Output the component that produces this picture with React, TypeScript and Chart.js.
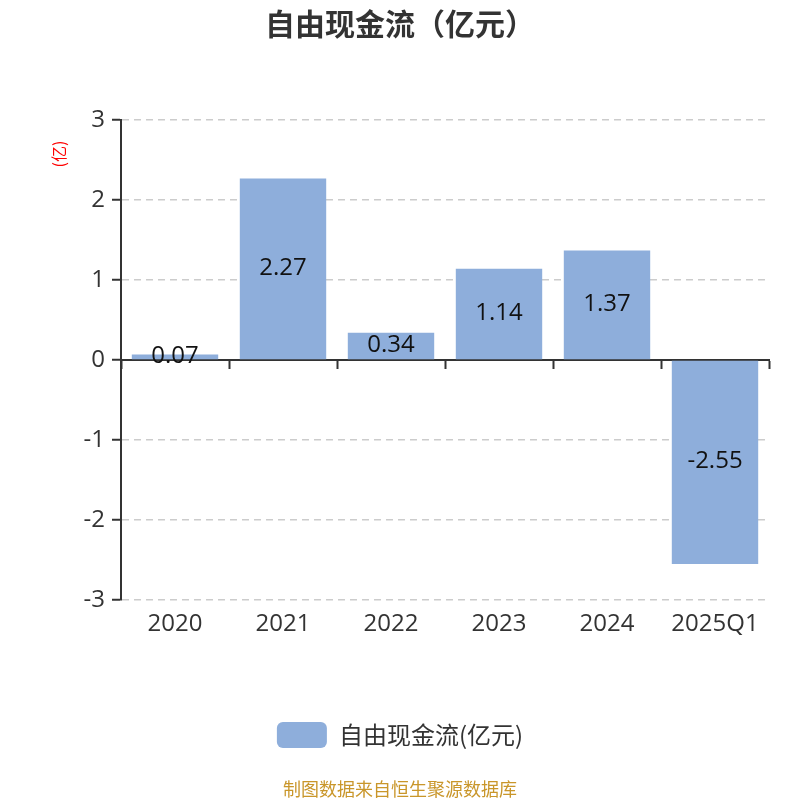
import React, { useEffect, useRef } from "react";
import { Chart, registerables } from "chart.js";

Chart.register(...registerables);

const categories = ["2020", "2021", "2022", "2023", "2024", "2025Q1"];
const freeCashFlow = [0.07, 2.27, 0.34, 1.14, 1.37, -2.55];
const seriesName = "自由现金流(亿元)";
const chartTitle = "自由现金流（亿元）";
const yAxisTitle = "(亿)";
const footerText = "制图数据来自恒生聚源数据库";
const yMin = -3;
const yMax = 3;

const FONT = "'Open Sans', 'Noto Sans CJK SC', sans-serif";
const CJK_FONT = "'Noto Sans CJK SC', 'Open Sans', sans-serif";
const BAR_COLOR = "#8eaedb";

const barLabelPlugin = {
  id: "barLabels",
  afterDatasetsDraw(chart: any) {
    const { ctx } = chart;
    const meta = chart.getDatasetMeta(0);
    const ds = chart.data.datasets[0];
    ctx.save();
    ctx.font = `24px ${FONT}`;
    ctx.fillStyle = "#111";
    ctx.textAlign = "center";
    ctx.textBaseline = "middle";
    meta.data.forEach((bar: any, i: number) => {
      const y = (bar.y + bar.base) / 2;
      ctx.fillText(String(ds.data[i]), bar.x, y - 1);
    });
    ctx.restore();
  },
};

const yTitlePlugin = {
  id: "yTitle",
  afterDraw(chart: any) {
    const { ctx, chartArea } = chart;
    ctx.save();
    ctx.font = `16px ${CJK_FONT}`;
    ctx.fillStyle = "#ff0000";
    ctx.textAlign = "center";
    ctx.textBaseline = "middle";
    ctx.translate(chart.scales.y.left + 59, chartArea.top + 34);
    ctx.rotate(-Math.PI / 2);
    ctx.fillText(yAxisTitle, 0, 0);
    ctx.restore();
  },
};

export default function App() {
  const ref = useRef<HTMLCanvasElement | null>(null);

  useEffect(() => {
    document.body.style.margin = "0";
    const canvas = ref.current;
    if (!canvas) return;
    const chart = new Chart(canvas, {
      type: "bar",
      data: {
        labels: categories,
        datasets: [
          {
            label: seriesName,
            data: freeCashFlow,
            backgroundColor: BAR_COLOR,
            borderWidth: 0,
            categoryPercentage: 0.8,
            barPercentage: 1,
          },
        ],
      },
      options: {
        animation: false,
        responsive: false,
        devicePixelRatio: 1,
        layout: { padding: 0 },
        plugins: {
          title: {
            display: true,
            text: chartTitle,
            color: "#333",
            font: { family: CJK_FONT, size: 30, weight: "bold" },
            padding: { top: 6, bottom: 78 },
          },
          subtitle: {
            display: true,
            position: "bottom",
            text: footerText,
            color: "#c9962a",
            font: { family: CJK_FONT, size: 18, weight: "normal" },
            padding: { top: 20.2, bottom: 0.2 },
          },
          legend: {
            display: true,
            position: "bottom",
            labels: {
              boxWidth: 50,
              boxHeight: 26,
              useBorderRadius: true,
              borderRadius: 6,
              color: "#333",
              font: { family: CJK_FONT, size: 24 },
              padding: 10,
            },
          },
          tooltip: { enabled: false },
        },
        scales: {
          x: {
            type: "category",
            position: "bottom",
            grid: { display: false, drawTicks: false },
            border: { display: false },
            ticks: {
              color: "#333",
              font: { family: FONT, size: 24 },
              padding: 10,
            },
            afterFit: (scale: any) => {
              scale.height = 112;
            },
          },
          x2: {
            type: "category",
            axis: "x",
            position: { y: 0 },
            grid: {
              offset: true,
              drawOnChartArea: false,
              drawTicks: true,
              tickLength: 8,
              tickColor: "#333",
              tickWidth: 2,
            },
            border: { display: true, color: "#333", width: 2 },
            ticks: { display: false },
          },
          y: {
            min: yMin,
            max: yMax,
            ticks: {
              stepSize: 1,
              color: "#333",
              font: { family: FONT, size: 24 },
              padding: 7,
            },
            grid: {
              color: (ctx: any) =>
                ctx.tick && ctx.tick.value === 0 ? "rgba(0,0,0,0)" : "#cccccc",
              lineWidth: 1.5,
              tickColor: "#333",
              tickWidth: 2,
              tickLength: 9,
            },
            border: { display: true, color: "#333", width: 2, dash: [7, 5] },
            title: { display: false },
            afterFit: (scale: any) => {
              scale.width = 121;
            },
          },
          yRight: {
            type: "linear",
            position: "right",
            min: yMin,
            max: yMax,
            grid: { display: false, drawTicks: false },
            border: { display: false },
            ticks: { display: false },
            afterFit: (scale: any) => {
              scale.width = 31;
            },
          },
        },
      },
      plugins: [barLabelPlugin, yTitlePlugin],
    });
    return () => chart.destroy();
  }, []);

  return (
    <div style={{ position: "absolute", left: 0, top: 0, width: 800, height: 800 }}>
      <canvas ref={ref} width={800} height={800} style={{ width: 800, height: 800 }} />
    </div>
  );
}
